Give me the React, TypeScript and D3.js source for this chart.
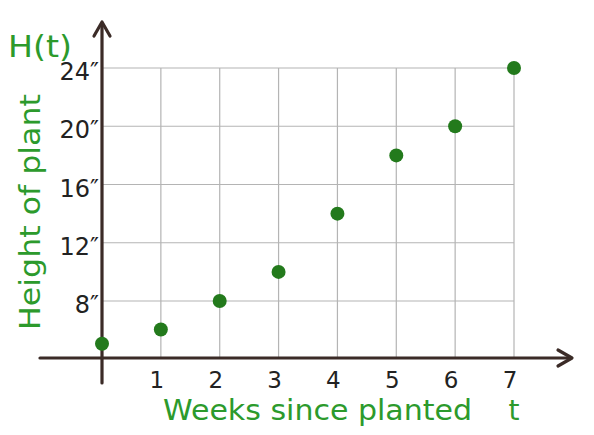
import * as d3 from 'd3'

const weeks = [0, 1, 2, 3, 4, 5, 6, 7]
const heights = [2, 4, 8, 10, 14, 18, 20, 24]
const yTicks = [8, 12, 16, 20, 24]
const yTickLabels = ['8″', '12″', '16″', '20″', '24″']

const W = 594
const H = 435
const GREEN = '#2c9a2c'
const DOT = '#237a1c'
const AXIS = '#3b2b27'
const GRID = '#b4b4b4'
const FONT = '"DejaVu Sans", Verdana, sans-serif'

export default function App() {
  const x = d3.scaleLinear().domain([0, 7]).range([102, 514])
  // bottom band (0–8) is squashed, as on the hand-drawn grid
  const y = d3.scaleLinear().domain([0, 8, 24]).range([358, 301, 68])

  const x0 = x(0)
  const y0 = y(0)

  return (
    <svg
      width={W}
      height={H}
      viewBox={`0 0 ${W} ${H}`}
      style={{ position: 'absolute', left: 0, top: 0, background: '#fff' }}
    >
      {/* grid */}
      <g stroke={GRID} strokeWidth={1.2}>
        {yTicks.map((t) => (
          <line key={`h${t}`} x1={x0} x2={x(7)} y1={y(t)} y2={y(t)} />
        ))}
        {weeks.slice(1).map((w) => (
          <line key={`v${w}`} x1={x(w)} x2={x(w)} y1={y0} y2={y(24)} />
        ))}
      </g>

      {/* axes */}
      <g stroke={AXIS} strokeWidth={3.2} fill="none" strokeLinecap="round" strokeLinejoin="round">
        <line x1={40} x2={570} y1={y0} y2={y0} />
        <polyline points={`558,350 572,${y0} 558,366`} />
        <line x1={x0} x2={x0} y1={383} y2={24} />
        <polyline points={`${x0 - 8},36 ${x0},22 ${x0 + 8},36`} />
      </g>

      {/* y tick labels */}
      <g fill="#222" fontFamily={FONT} fontSize={24} textAnchor="end">
        {yTicks.map((t, i) => (
          <text key={t} x={x0 - 3} y={y(t) + 12}>
            {yTickLabels[i]}
          </text>
        ))}
      </g>

      {/* x tick labels */}
      <g fill="#222" fontFamily={FONT} fontSize={23} textAnchor="middle">
        {weeks.slice(1).map((w) => (
          <text key={w} x={x(w) - 4} y={388}>
            {w}
          </text>
        ))}
      </g>

      {/* points */}
      <g fill={DOT}>
        {weeks.map((w, i) => (
          <circle key={w} cx={x(w)} cy={y(heights[i])} r={7} />
        ))}
      </g>

      {/* titles */}
      <g fill={GREEN} fontFamily={FONT}>
        <text x={8} y={57} fontSize={30} textLength={64} lengthAdjust="spacingAndGlyphs">
          H(t)
        </text>
        <text
          transform="translate(40,212) rotate(-90)"
          textAnchor="middle"
          fontSize={28}
          textLength={236}
          lengthAdjust="spacingAndGlyphs"
        >
          Height of plant
        </text>
        <text x={163} y={420} fontSize={28} textLength={309} lengthAdjust="spacingAndGlyphs">
          Weeks since planted
        </text>
        <text x={514} y={420} fontSize={28} textAnchor="middle">t</text>
      </g>
    </svg>
  )
}
